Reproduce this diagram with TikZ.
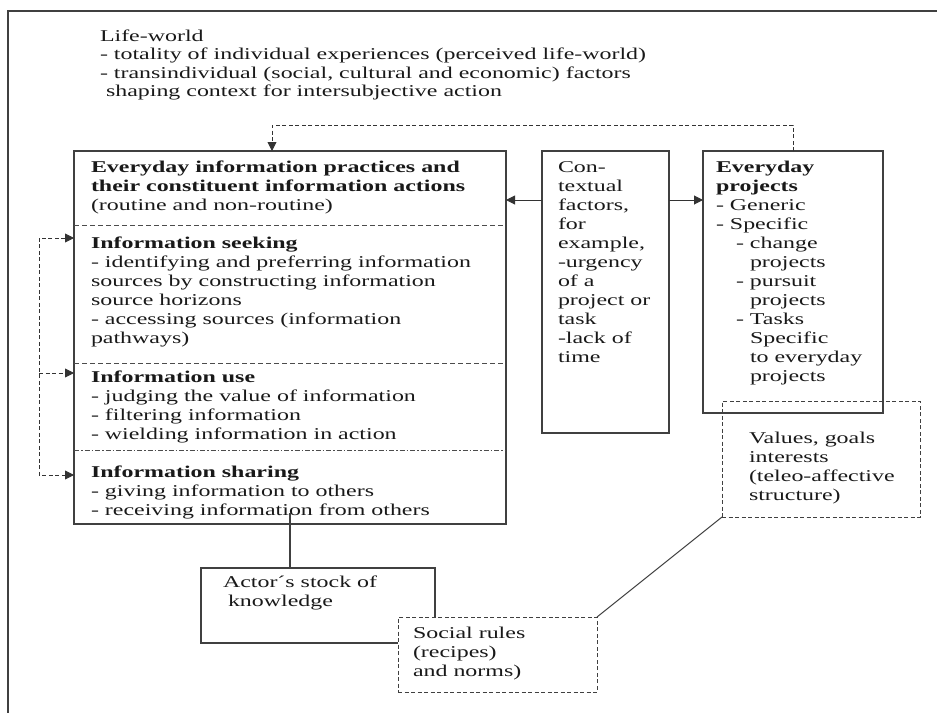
\documentclass[tikz,border=0pt]{standalone}
\usepackage{fontspec}
\setmainfont{Liberation Serif}[FakeStretch=1.45]
\usetikzlibrary{arrows.meta, positioning}
\tikzset{
        >={Triangle[length=9pt,width=9pt]}, % filled arrow heads
        box/.style={draw=black!75, line width=1.2pt, inner sep=0pt, outer sep=0pt, anchor=north west}, % solid boxes
        dashbox/.style={box, line width=1pt, dash pattern=on 4pt off 2.5pt}, % dashed boxes
        txt/.style={inner sep=0pt, outer sep=0pt, align=left, text=black!90, font=\fontsize{16.5}{19}\selectfont}, % box texts
        divider/.style={draw=black!70, line width=.8pt, dash pattern=on 5pt off 3pt}, % section lines
        flow/.style={->, draw=black!80, line width=1pt}, % solid arrows
        feedback/.style={flow, line width=.9pt, dash pattern=on 4pt off 2.5pt}, % dashed arrows
    }
\begin{document}
\begin{tikzpicture}[x=1pt, y=1pt]
    \useasboundingbox (0,0) rectangle (937,-713);
    \draw[black!75, line width=1.5pt] (937,-11) -- (8,-11) -- (8,-713);

    \node[txt, anchor=north west, font=\fontsize{16.5}{18.5}\selectfont] (lifeworld) at (100,-28.2)
      {\strut Life-world\\- totality of individual experiences (perceived life-world)\\- transindividual (social, cultural and economic) factors\\\hspace*{6pt}shaping context for intersubjective action};

    \node[box, minimum width=432pt, minimum height=373pt] (practices) at (74,-151) {};
    \node[box, minimum width=127pt, minimum height=282pt] (context) at (542,-151) {};
    \node[box, minimum width=180pt, minimum height=262pt] (projects) at (703,-151) {};
    \node[dashbox, minimum width=198pt, minimum height=116pt] (values) at (722,-401) {};
    \node[box, minimum width=234pt, minimum height=75pt] (actor) at (201,-568) {};
    \node[dashbox, fill=white, minimum width=199pt, minimum height=75pt] (social) at (398,-617) {};

    \node[txt, below right=7.7pt and 17pt of practices.north west] (practicestext)
      {\strut\textbf{Everyday information practices and}\\\textbf{their constituent information actions}\\(routine and non-routine)};
    \node[txt, below right=83.7pt and 17pt of practices.north west] (seeking)
      {\strut\textbf{Information seeking}\\- identifying and preferring information\\sources by constructing information\\source horizons\\- accessing sources (information\\pathways)};
    \node[txt, below right=217.7pt and 17pt of practices.north west] (use)
      {\strut\textbf{Information use}\\- judging the value of information\\- filtering information\\- wielding information in action};
    \node[txt, below right=312.7pt and 17pt of practices.north west] (sharing)
      {\strut\textbf{Information sharing}\\- giving information to others\\- receiving information from others};
    \draw[divider] ([yshift=-74pt]practices.north west) -- ([yshift=-74pt]practices.north east);
    \draw[divider] ([yshift=-212pt]practices.north west) -- ([yshift=-212pt]practices.north east);
    \draw[divider, dash pattern=on 5pt off 2pt on 1.5pt off 2pt] ([yshift=-299pt]practices.north west) -- ([yshift=-299pt]practices.north east);

    \node[txt, below right=7.7pt and 16pt of context.north west] (contexttext)
      {\strut Con-\\textual\\factors,\\for\\example,\\-urgency\\of a\\project or\\task\\-lack of\\time};
    \node[txt, below right=7.7pt and 13pt of projects.north west] (projectstext)
      {\strut\textbf{Everyday}\\\textbf{projects}\\- Generic\\- Specific\\\hspace*{20pt}- change\\\hspace*{34pt}projects\\\hspace*{20pt}- pursuit\\\hspace*{34pt}projects\\\hspace*{20pt}- Tasks\\\hspace*{34pt}Specific\\\hspace*{34pt}to everyday\\\hspace*{34pt}projects};
    \node[txt, below right=28.7pt and 27pt of values.north west] (valuestext)
      {\strut Values, goals\\interests\\(teleo-affective\\structure)};
    \node[txt, below right=5.7pt and 22pt of actor.north west] (actortext)
      {\strut Actor´s stock of\\\hspace*{5pt}knowledge};
    \node[txt, below right=7.7pt and 15pt of social.north west] (socialtext)
      {\strut Social rules\\(recipes)\\and norms)};

    \draw[flow] ([yshift=-49pt]context.north west) -- ([yshift=-49pt]practices.north east);
    \draw[flow] ([yshift=-49pt]context.north east) -- ([yshift=-49pt]projects.north west);
    \draw[feedback] ([xshift=90pt]projects.north west) -- ++(0,26) -| ([xshift=198pt]practices.north west);
    \draw[feedback, <->] ([yshift=-87pt]practices.north west) -- ++(-35,0) |- ([yshift=-324pt]practices.north west);
    \coordinate (usebranch) at ([xshift=-35pt,yshift=-222pt]practices.north west);
    \draw[feedback] (usebranch) -- (usebranch -| practices.west);
    \draw[black!75, line width=1.2pt] ([xshift=89pt]actor.north west) -- ++(0,55);
    \draw[black!75, line width=1pt] (social.north east) -- (values.south west);
\end{tikzpicture}
\end{document}
